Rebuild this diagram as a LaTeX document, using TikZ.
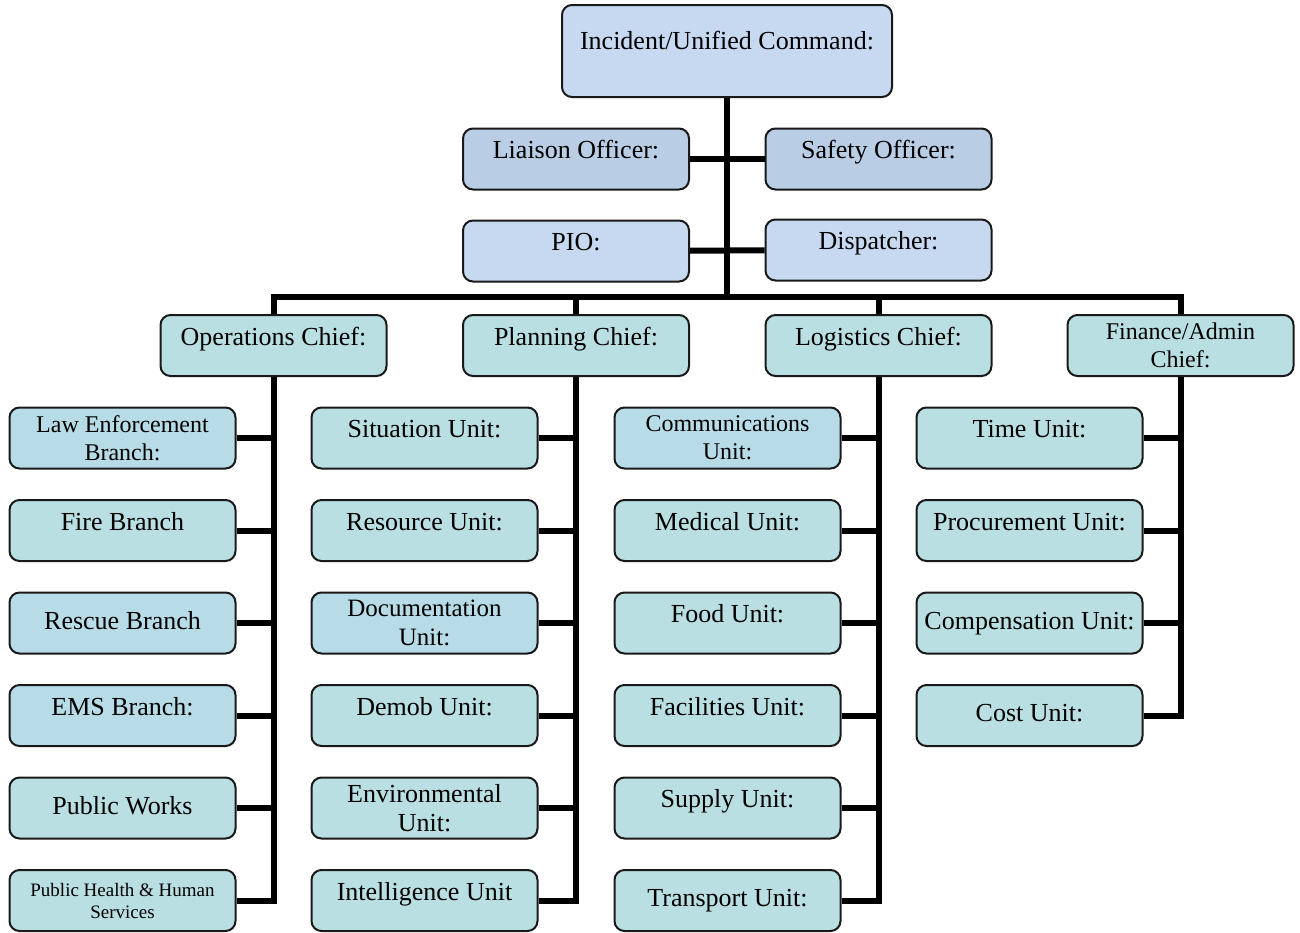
\documentclass[tikz,border=0pt]{standalone}
\usepackage{fontspec}
\setmainfont{Liberation Serif}
\usetikzlibrary{positioning}
\definecolor{cmdblue}{RGB}{198,217,240}
\definecolor{staffblue}{RGB}{185,205,229}
\definecolor{unitteal}{RGB}{186,223,226}
\definecolor{unitblue}{RGB}{183,220,231}

\begin{document}
\begin{tikzpicture}[x=0.5pt, y=-0.5pt, node distance=14.75pt,
    box/.style={draw=black!90, line width=1pt, rounded corners=5pt, fill=unitteal,
        minimum width=113pt, minimum height=30.5pt, inner sep=2pt, align=center,
        font=\fontsize{13}{14}\selectfont, text height=9pt, text depth=3pt},
    upper/.style={text depth=9.5pt},
    two/.style={text height=, text depth=},
    small/.style={font=\fontsize{12}{14}\selectfont},
    link/.style={line width=3pt, line join=miter}]
    \useasboundingbox (0,0) rectangle (1300,932);

    % Command and staff
    \node[box, fill=cmdblue, minimum width=165pt, minimum height=46pt, text depth=11pt] (cmd) at (727,51) {Incident/Unified Command:};
    \node[box, upper, fill=staffblue] (liaison) at (576,159) {Liaison Officer:};
    \node[box, upper, fill=staffblue] (safety) at (878.5,159) {Safety Officer:};
    \node[box, upper, fill=cmdblue] (pio) at (576,251) {PIO:};
    \node[box, upper, fill=cmdblue] (disp) at (878.5,250) {Dispatcher:};
    \coordinate (bus) at (727,297);

    % Section chiefs
    \node[box, upper] (ops) at (273.5,345.5) {Operations Chief:};
    \node[box, upper] (plan) at (576,345.5) {Planning Chief:};
    \node[box, upper] (logi) at (878.5,345.5) {Logistics Chief:};
    \node[box, two, small] (fin) at (1180.5,345.5) {Finance/Admin\\Chief:};

    % Operations
    \node[box, two, small, fill=unitblue] (law) at (122.5,438) {Law Enforcement\\Branch:};
    \node[box, upper, below=of law] (fire) {Fire Branch};
    \node[box, fill=unitblue, below=of fire] (rescue) {Rescue Branch};
    \node[box, upper, fill=unitblue, below=of rescue] (ems) {EMS Branch:};
    \node[box, below=of ems] (works) {Public Works};
    \node[box, two, font=\fontsize{9.5}{11}\selectfont, below=of works] (health) {Public Health \& Human\\Services};

    % Planning
    \node[box, upper] (sit) at (424.5,438) {Situation Unit:};
    \node[box, upper, below=of sit] (res) {Resource Unit:};
    \node[box, two, fill=unitblue, font=\fontsize{12.5}{14.5}\selectfont, below=of res] (doc) {Documentation\\Unit:};
    \node[box, upper, below=of doc] (demob) {Demob Unit:};
    \node[box, two, font=\fontsize{13}{14.5}\selectfont, below=of demob] (env) {Environmental\\Unit:};
    \node[box, upper, below=of env] (intel) {Intelligence Unit};

    % Logistics
    \node[box, two, small, fill=unitblue] (comm) at (727.5,438) {Communications\\Unit:};
    \node[box, upper, below=of comm] (med) {Medical Unit:};
    \node[box, upper, below=of med] (food) {Food Unit:};
    \node[box, upper, below=of food] (facil) {Facilities Unit:};
    \node[box, upper, below=of facil] (supply) {Supply Unit:};
    \node[box, below=of supply] (trans) {Transport Unit:};

    % Finance/Admin
    \node[box, upper] (time) at (1029.5,438) {Time Unit:};
    \node[box, upper, below=of time] (proc) {Procurement Unit:};
    \node[box, below=of proc] (comp) {Compensation Unit:};
    \node[box, below=of comp] (cost) {Cost Unit:};

    % Connections
    \draw[link] (cmd) -- (bus);
    \draw[link] (liaison) -- (safety);
    \draw[link] (pio) -- (disp);
    \draw[link] (ops.north) |- (bus) -| (fin.north);
    \draw[link] (plan.north) -- (plan.north |- bus);
    \draw[link] (logi.north) -- (logi.north |- bus);

    \draw[link] (ops.south) |- (health.east);
    \draw[link] (plan.south) |- (intel.east);
    \draw[link] (logi.south) |- (trans.east);
    \draw[link] (fin.south) |- (cost.east);
    \foreach \u in {law, fire, rescue, ems, works}
        \draw[link] (\u.east) -- (\u.east -| ops.south);
    \foreach \u in {sit, res, doc, demob, env}
        \draw[link] (\u.east) -- (\u.east -| plan.south);
    \foreach \u in {comm, med, food, facil, supply}
        \draw[link] (\u.east) -- (\u.east -| logi.south);
    \foreach \u in {time, proc, comp}
        \draw[link] (\u.east) -- (\u.east -| fin.south);
\end{tikzpicture}
\end{document}
